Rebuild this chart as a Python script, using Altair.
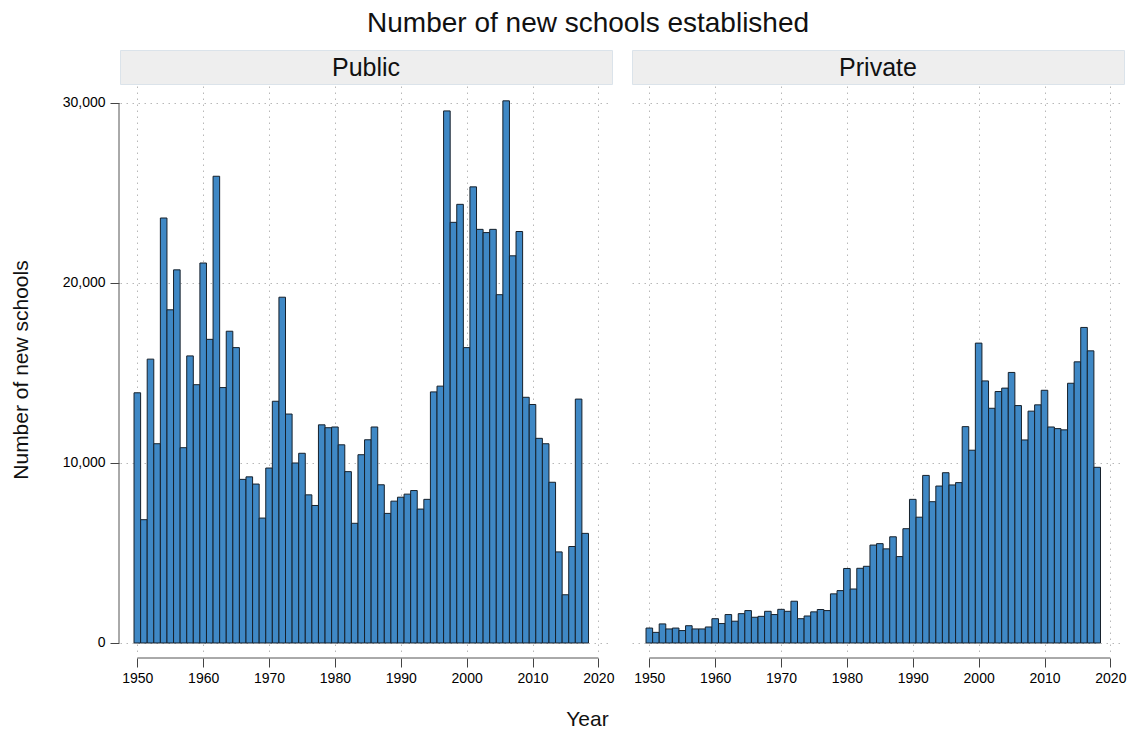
import altair as alt
import pandas as pd

years = list(range(1950, 2019))
public = [13900, 6850, 15770, 11070, 23610, 18510, 20730, 10850, 15950, 14350,
          21110, 16870, 25930, 14190, 17320, 16410, 9090, 9230, 8830, 6940,
          9720, 13430, 19210, 12720, 10000, 10540, 8230, 7640, 12120, 11960,
          12000, 11010, 9520, 6650, 10460, 11290, 12000, 8790, 7200, 7880,
          8100, 8270, 8470, 7440, 7980, 13950, 14270, 29560, 23370, 24370,
          16410, 25340, 22980, 22800, 22980, 19350, 30120, 21510, 22860, 13650,
          13250, 11370, 11070, 8930, 5060, 2680, 5360, 13550, 6090]
private = [830, 590, 1060, 780, 830, 690, 960, 780, 780, 890,
           1350, 1080, 1580, 1210, 1630, 1800, 1430, 1480, 1760, 1580,
           1870, 1760, 2320, 1350, 1500, 1730, 1860, 1800, 2730, 2910,
           4140, 3000, 4150, 4260, 5440, 5520, 5230, 5900, 4800, 6350,
           7980, 6990, 9310, 7850, 8720, 9460, 8780, 8910, 12020, 10710,
           16660, 14560, 13040, 13970, 14160, 15030, 13190, 11280, 12880, 13230,
           14040, 12000, 11910, 11840, 14430, 15620, 17530, 16230, 9760]
panels = ["Public", "Private"]
x_ticks = [1950, 1960, 1970, 1980, 1990, 2000, 2010, 2020]
y_ticks = [0, 10000, 20000, 30000]

FONT = "Liberation Sans"
W, H = 492, 567
xscale = alt.Scale(domain=[1947.37, 2022.07], nice=False, zero=False)
yscale = alt.Scale(domain=[-556, 30944], nice=False, zero=False)
GRID = dict(grid=True, gridColor="#b8b8b8", gridDash=[1.5, 4.5], gridWidth=1)


def panel(values, name, left):
    df = pd.DataFrame({"year": years, "n": values})
    df["x0"] = df["year"] - 0.5
    df["x1"] = df["year"] + 0.5
    df["z"] = 0
    xaxis = alt.Axis(values=x_ticks, format="d", domain=False, tickSize=9,
                     tickColor="#444", tickWidth=1, offset=5, labelFontSize=14,
                     labelColor="#000", labelPadding=4, labelFont=FONT,
                     title="Year" if left else None, titleFont=FONT, titleFontSize=21,
                     titleFontWeight="normal", titleColor="#111",
                     titleX=467, titleY=50, titleAnchor="start", titleAlign="center",
                     **GRID)
    if left:
        yaxis = alt.Axis(values=y_ticks, format=",.0f", domain=False, tickSize=9,
                         tickColor="#444", offset=1, labelFontSize=14, labelColor="#000",
                         labelPadding=5, labelFont=FONT,
                         title="Number of new schools", titleFont=FONT, titleFontSize=21,
                         titleFontWeight="normal", titleColor="#111", titlePadding=31,
                         **GRID)
    else:
        yaxis = alt.Axis(values=y_ticks, domain=False, ticks=False, labels=False,
                         title=None, **GRID)
    bars = alt.Chart(df).mark_bar(color="#3f88c5", stroke="#16202b", strokeWidth=1).encode(
        x=alt.X("x0:Q", scale=xscale, axis=xaxis),
        x2="x1:Q",
        y=alt.Y("n:Q", scale=yscale, axis=yaxis, stack=None),
        y2="z:Q",
    )
    xl = pd.DataFrame({"a": [x_ticks[0]], "b": [x_ticks[-1]]})
    xline = alt.Chart(xl).mark_rule(color="#555", strokeWidth=1).encode(
        x=alt.X("a:Q", scale=xscale, axis=xaxis),
        x2="b:Q",
        y=alt.value(H + 5),
    )
    layers = [bars, xline]
    if left:
        yl = pd.DataFrame({"lo": [y_ticks[0]], "hi": [y_ticks[-1]]})
        yline = alt.Chart(yl).mark_rule(color="#555", strokeWidth=1).encode(
            x=alt.value(-1),
            y=alt.Y("lo:Q", scale=yscale, axis=yaxis),
            y2="hi:Q",
        )
        layers.append(yline)
    body = alt.layer(*layers).properties(width=W, height=H)
    header = alt.Chart(pd.DataFrame({"t": [name]})).mark_text(
        font=FONT, fontSize=25, color="#111", baseline="middle", align="center"
    ).encode(text="t:N", x=alt.value(W / 2), y=alt.value(18)).properties(
        width=W, height=34, view=alt.ViewBackground(fill="#eeeeee", stroke="#dbe3ea")
    )
    return alt.vconcat(header, body, spacing=1)


chart = alt.hconcat(
    panel(public, panels[0], True), panel(private, panels[1], False), spacing=17
).properties(
    title=alt.TitleParams("Number of new schools established", font=FONT, fontSize=28,
                          fontWeight="normal", color="#111", anchor="middle", offset=12,
                          dx=20),
    padding={"left": 10, "top": 9, "right": 5, "bottom": 5},
).configure_view(stroke=None)

chart.save("out.html", embed_options={"renderer": "svg", "actions": False})
